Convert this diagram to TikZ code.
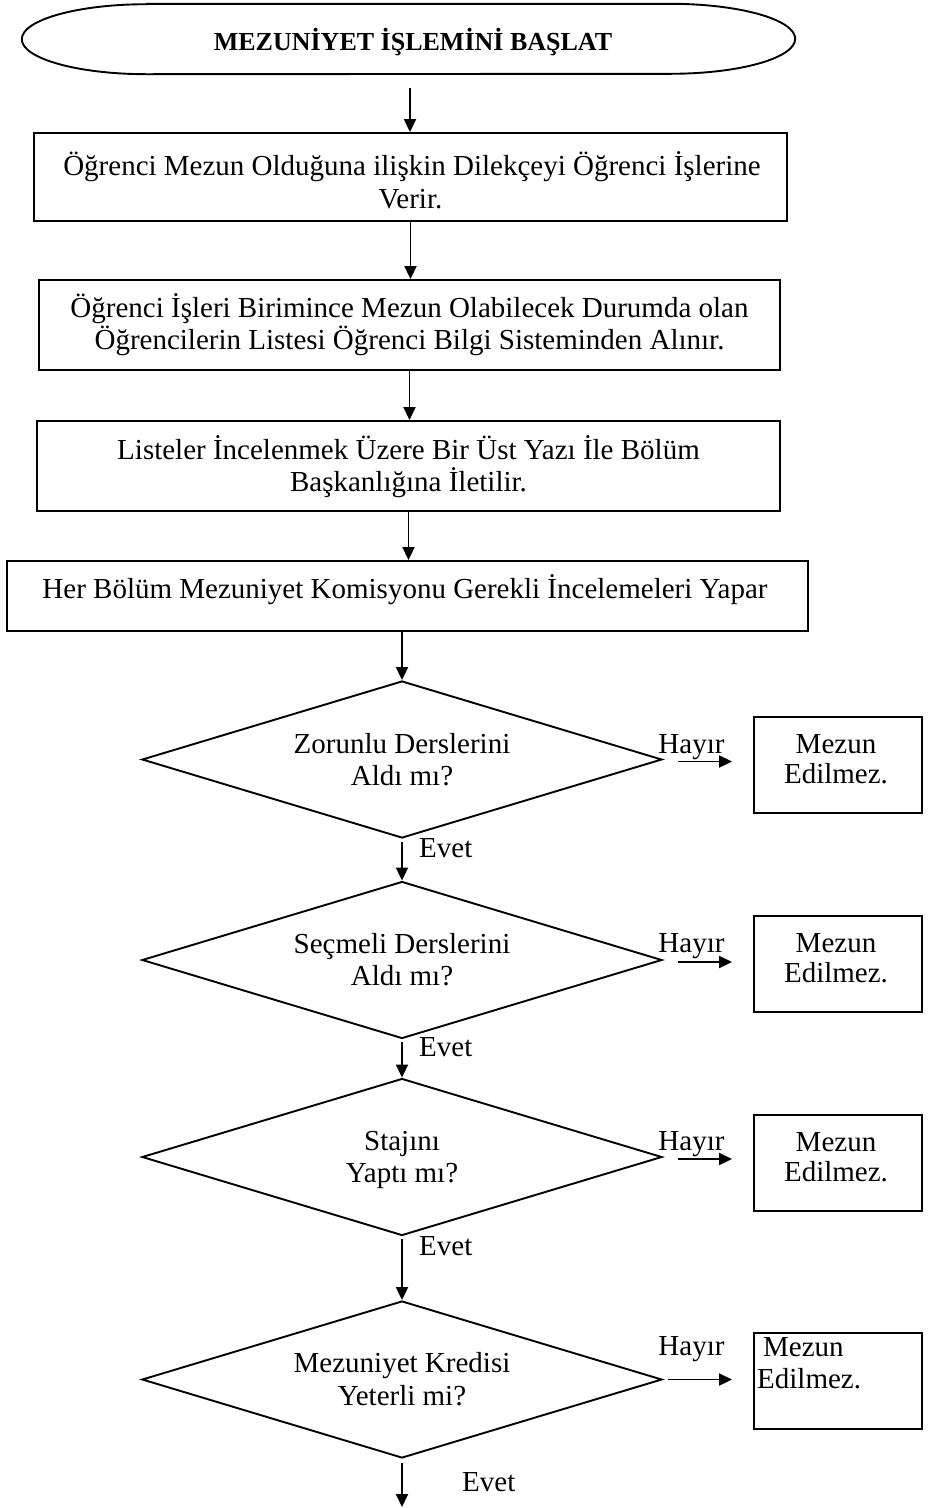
\documentclass[tikz,border=0pt]{standalone}
\usepackage{fontspec}
\setmainfont{Liberation Serif}
\usetikzlibrary{arrows.meta,shapes.geometric,calc}
\newcommand{\bodyfont}{\fontsize{29}{32}\selectfont}
\newcommand{\titlefont}{\fontsize{26}{28}\selectfont\bfseries}
\begin{document}
\begin{tikzpicture}[x=1pt,y=-1pt,
  ln/.style={line width=1.9pt},
  arr/.style={line width=1.9pt,-{Triangle[length=13pt,width=12pt]}},
  txt/.style={anchor=base,inner sep=0pt,font=\bodyfont},
  txtl/.style={anchor=base west,inner sep=0pt,font=\bodyfont},
  procbox/.style={draw,line width=1.9pt,inner sep=0pt},
  decide/.style={diamond,draw,line width=1.9pt,minimum width=520pt,minimum height=157pt,inner sep=0pt,aspect=3.3},
  endbox/.style={draw,line width=1.9pt,inner sep=0pt,minimum width=168pt,minimum height=96pt}]
\useasboundingbox (0,0) rectangle (928,1508);

% terminal
\node[inner sep=0pt,minimum width=773pt,minimum height=70pt] (start) at (408.5,39) {};
\draw[ln] ([xshift=125pt]start.north west) -- ([xshift=-125pt]start.north east)
  arc[start angle=90,end angle=-90,x radius=125pt,y radius=35pt]
  -- ([xshift=125pt]start.south west)
  arc[start angle=270,end angle=90,x radius=125pt,y radius=35pt] -- cycle;
\node[anchor=base,inner sep=0pt,font=\titlefont] (title) at (413,50) {MEZUNİYET İŞLEMİNİ BAŞLAT};

% process boxes
\node[procbox,minimum width=753pt,minimum height=88pt] (b1) at (410.5,177) {};
\node[txt] (t1a) at (412,175) {Öğrenci Mezun Olduğuna ilişkin Dilekçeyi Öğrenci İşlerine};
\node[txt] (t1b) at (410.5,208) {Verir.};

\node[procbox,minimum width=741pt,minimum height=90pt] (b2) at (409.5,325) {};
\node[txt] (t2a) at (409.5,317) {Öğrenci İşleri Birimince Mezun Olabilecek Durumda olan};
\node[txt] (t2b) at (409.5,349) {Öğrencilerin Listesi Öğrenci Bilgi Sisteminden Alınır.};

\node[procbox,minimum width=743pt,minimum height=90pt] (b3) at (408.5,466) {};
\node[txt] (t3a) at (408.5,459) {Listeler İncelenmek Üzere Bir Üst Yazı İle Bölüm};
\node[txt] (t3b) at (408.5,491) {Başkanlığına İletilir.};

\node[procbox,minimum width=801pt,minimum height=70pt] (b4) at (407.5,596) {};
\node[txt] (t4) at (405,598) {Her Bölüm Mezuniyet Komisyonu Gerekli İncelemeleri Yapar};

% decisions
\node[decide] (d1) at (402,759.5) {};
\node[txt] (d1a) at (402,753) {Zorunlu Derslerini};
\node[txt] (d1b) at (402,785) {Aldı mı?};

\node[decide] (d2) at (402,960) {};
\node[txt] (d2a) at (402,953) {Seçmeli Derslerini};
\node[txt] (d2b) at (402,985) {Aldı mı?};

\node[decide] (d3) at (402,1157) {};
\node[txt] (d3a) at (402,1150) {Stajını};
\node[txt] (d3b) at (402,1182) {Yaptı mı?};

\node[decide] (d4) at (402,1379.5) {};
\node[txt] (d4a) at (402,1372) {Mezuniyet Kredisi};
\node[txt] (d4b) at (402,1405) {Yeterli mi?};

% end boxes
\node[endbox] (m1) at (838,765) {};
\node[txt] (m1a) at (836,753) {Mezun};
\node[txt] (m1b) at (836,783) {Edilmez.};

\node[endbox] (m2) at (838,964) {};
\node[txt] (m2a) at (836,952) {Mezun};
\node[txt] (m2b) at (836,982) {Edilmez.};

\node[endbox] (m3) at (838,1163) {};
\node[txt] (m3a) at (836,1151) {Mezun};
\node[txt] (m3b) at (836,1181) {Edilmez.};

\node[endbox] (m4) at (838,1381) {};
\node[txtl] (m4a) at (763,1356) {Mezun};
\node[txtl] (m4b) at (757,1388) {Edilmez.};

% labels
\node[txt] (h1) at (691.5,753) {Hayır};
\node[txt] (h2) at (691.5,952) {Hayır};
\node[txt] (h3) at (691.5,1150) {Hayır};
\node[txt] (h4) at (691.5,1355) {Hayır};
\node[txtl] (e1) at (419,857) {Evet};
\node[txtl] (e2) at (419,1056) {Evet};
\node[txtl] (e3) at (419,1255) {Evet};
\node[txtl] (e4) at (462,1491) {Evet};

% connectors
\coordinate (a1s) at (410,88);
\coordinate (endc) at (402,1507);
\draw[arr] (a1s) -- (a1s |- b1.north);
\draw[arr] (b1.south) -- (b1.south |- b2.north);
\draw[arr] (b2.south) -- (b2.south |- b3.north);
\draw[arr] (b3.south) -- (b3.south |- b4.north);
\draw[arr] (d1.north |- b4.south) -- (d1.north);
\draw[arr,shorten <=3pt] (d1.south) -- (d2.north);
\draw[arr,shorten <=3pt] (d2.south) -- (d3.north);
\draw[arr,shorten <=3pt] (d3.south) -- (d4.north);
\draw[arr,shorten <=4pt] (d4.south) -- (endc);
\draw[arr] ([xshift=15pt,yshift=-2pt]d1.east) -- ([xshift=-21pt,yshift=-2pt]m1.west |- d1.east);
\draw[arr] ([xshift=15pt,yshift=-2pt]d2.east) -- ([xshift=-21pt,yshift=-2pt]m2.west |- d2.east);
\draw[arr] ([xshift=15pt,yshift=-2pt]d3.east) -- ([xshift=-21pt,yshift=-2pt]m3.west |- d3.east);
\draw[arr] ([xshift=5pt]d4.east) -- ([xshift=-21pt]m4.west |- d4.east);
\end{tikzpicture}
\end{document}
